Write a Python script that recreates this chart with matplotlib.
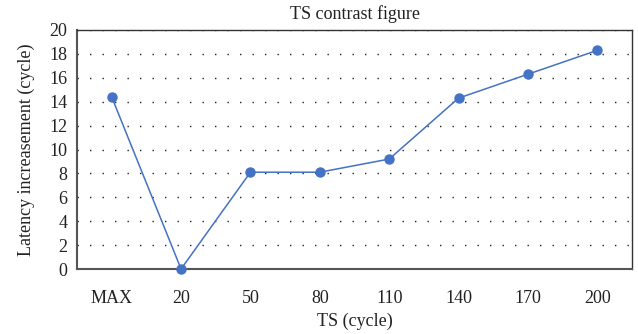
import matplotlib
matplotlib.use("Agg")
import matplotlib.pyplot as plt

categories = ["MAX", "20", "50", "80", "110", "140", "170", "200"]
latency = [14.4, 0.0, 8.1, 8.1, 9.2, 14.3, 16.3, 18.3]
yticks = [0, 2, 4, 6, 8, 10, 12, 14, 16, 18, 20]

plt.rcParams["font.family"] = ["Liberation Serif", "DejaVu Serif"]

fig = plt.figure(figsize=(6.38, 3.34), dpi=100)
ax = fig.add_axes([77 / 638, 1 - 269 / 334, 555 / 638, 239 / 334])

x = list(range(len(categories)))
ax.plot(x, latency, color="#4472C4", linewidth=1.1, marker="o",
        markersize=6.5, zorder=3, clip_on=False)

ax.set_xlim(-0.5, len(categories) - 0.5)
ax.set_ylim(0, 20)
ax.set_yticks(yticks)
ax.set_xticks(x)
ax.set_xticklabels(categories)
ax.tick_params(axis="both", length=0, labelsize=13, colors="#222222")
ax.tick_params(axis="x", pad=15)
ax.tick_params(axis="y", pad=7)

ax.yaxis.grid(True, linestyle=(0, (1, 8)), color="#222222", linewidth=1.0)
ax.set_axisbelow(True)

for side in ["left", "bottom"]:
    ax.spines[side].set_color("#555555")
    ax.spines[side].set_linewidth(1.5)
for side in ["top", "right"]:
    ax.spines[side].set_color("#333333")
    ax.spines[side].set_linewidth(1.0)

ax.set_title("TS contrast figure", fontsize=13, color="#222222", pad=8)
ax.set_xlabel("TS (cycle)", fontsize=13, color="#222222", labelpad=4)
ax.set_ylabel("Latency increasement (cycle)", fontsize=13, color="#222222",
              labelpad=10)

fig.savefig("out.png", dpi=100)
